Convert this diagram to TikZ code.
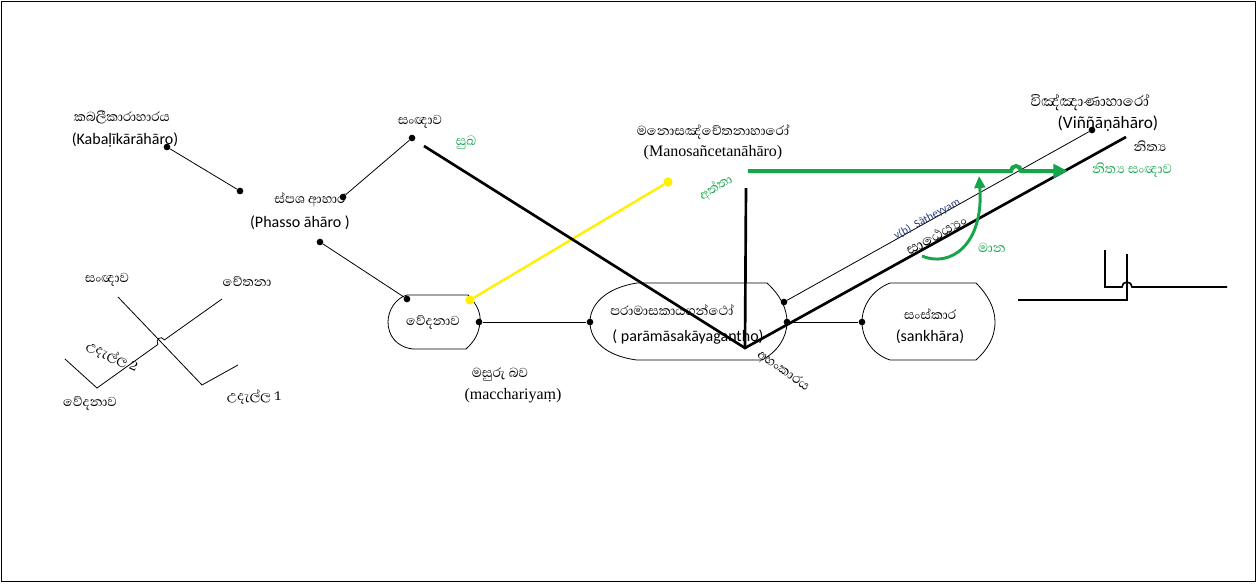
\documentclass[tikz,border=0pt]{standalone}
\usepackage{fontspec}
\setmainfont{Liberation Serif}
\newfontfamily\sinhalafont[Script=Sinhala]{Abhaya Libre}
\newfontfamily\calib{Carlito}
\usetikzlibrary{arrows.meta, positioning}

\definecolor{sgreen}{RGB}{22,165,75}
\definecolor{syellow}{RGB}{255,240,0}
\definecolor{sblue}{RGB}{40,60,120}

\begin{document}
\begin{tikzpicture}[
x=0.75pt, y=-0.75pt,
dot/.style={
circle,
fill=black,
inner sep=0pt,
minimum size=5pt
},
ydot/.style={
circle,
fill=syellow,
inner sep=0pt,
minimum size=7pt
},
sl/.style={
font=\sinhalafont\fontsize{12.5}{14}\selectfont,
inner sep=1pt
},
ll/.style={
font=\calib\fontsize{12}{14}\selectfont,
inner sep=1pt
},
rl/.style={
font=\fontsize{12}{14}\selectfont,
inner sep=1pt
},
gl/.style={
sl,
text=sgreen
},
thinline/.style={
line width=0.6pt
},
thickline/.style={
line width=2pt
},
garrow/.style={
-{Triangle[length=11pt,width=10pt]},
line width=3pt,
draw=sgreen
}
]

\useasboundingbox (0,0) rectangle (1257,583);
\draw[line width=1.2pt] (1.5,1.5) rectangle (1255.5,581.5);

% upper left chain
\node[sl] (kab) at (122,117) {කබලීකාරාහාරය};
\node[ll] (kabl) at (125,140) {(Kabaḷīkārāhāro)};
\node[dot] (d1) at (167,147) {};
\node[dot] (d2) at (240,191) {};
\node[sl] (pha) at (310,200) {ස්පශ ආහාර};
\node[ll] (phal) at (300,223) {(Phasso āhāro )};
\node[dot] (d3) at (343,197) {};
\node[dot] (d4) at (412,138) {};
\node[sl] (san) at (420,122) {සංඥාව};
\node[gl] (sukha) at (466,143) {සුඛ};
\node[dot] (d5) at (320,242) {};
\node[dot] (d6) at (407,299) {};

\draw[thinline] (d1) -- (d2);
\draw[thinline] (d3) -- (d4);
\draw[thinline] (d5) -- (d6);

% vedana
\draw[thinline] (407,295) -- (468,295)
.. controls (478,305) and (481,315) .. (480,322)
.. controls (479,332) and (476,340) .. (466,349) -- (413,349)
.. controls (396,347) and (388,335) .. (388,322)
.. controls (388,310) and (396,298) .. (407,295);
\node[sl] (ved) at (433,322) {වේදනාව};
\node[dot] (d7) at (479,322) {};
\node[ydot] (y1) at (470,300) {};
\node[ydot] (y2) at (668,182) {};
\draw[syellow, line width=1.8pt] (y1) -- (y2);

\node[sl] (mas) at (500,375) {මසුරු බව};
\node[rl] (masl) at (513,396) {(macchariyaṃ)};

% paramasa
\draw[thinline] (637,283) -- (767,283)
.. controls (780,295) and (787,308) .. (787,322)
.. controls (787,338) and (777,352) .. (762,360) -- (637,360)
.. controls (605,356) and (590,340) .. (590,322)
.. controls (590,305) and (605,288) .. (637,283);
\node[dot] (d8) at (590,322) {};
\node[sl] (par) at (672,310) {පරාමාසකායගන්ථෝ};
\node[ll, inner sep=0pt] (parl) at (688,337) {( parāmāsakāyagantho)};
\node[dot] (d9) at (784,302) {};
\node[dot] (d10) at (787,322) {};

\draw[thinline] (d7) -- (d8);

% sankhara
\draw[thinline] (890,283) -- (976,283)
.. controls (988,295) and (995,308) .. (995,322)
.. controls (995,338) and (987,350) .. (976,360) -- (890,360)
.. controls (872,354) and (862,338) .. (862,322)
.. controls (862,306) and (872,290) .. (890,283);
\node[dot] (d11) at (862,322) {};
\node[sl] (sam) at (930,314) {සංස්කාර};
\node[ll] (saml) at (930,337) {(sankhāra)};

\draw[thinline] (d10) -- (d11);

% mano and vinnana
\node[sl] (man) at (713,132) {මනොසඤ්චේතනාහාරෝ};
\node[rl] (manl) at (713,153) {(Manosañcetanāhāro)};
\node[sl, font=\sinhalafont\fontsize{14}{16}\selectfont] (vin) at (1090,103) {විඤ්ඤාණාහාරෝ};
\node[ll, font=\calib\fontsize{13}{15}\selectfont] (vinl) at (1108,124) {(Viññāṇāhāro)};
\node[dot] (d12) at (1092,130) {};
\node[sl] (nit) at (1150,146) {නිත්‍ය};
\node[gl] (nits) at (1132,170) {නිත්‍ය සංඥාව};

\draw[thinline] (d9) -- (d12);

% thick V
\coordinate (t1) at (424,146);
\coordinate (vb) at (745,348);
\coordinate (t2) at (1126,137);
\coordinate (vt) at (746,188);
\draw[thickline] (t1) -- (vb) -- (t2);
\draw[thickline] (vt) -- (vb);

% green arrows
\coordinate (g1) at (748,171);
\coordinate (g2) at (1068,171);
\draw[garrow] (g1) -- (1011,171) arc(180:360:5) -- (g2);
\coordinate (m1) at (922,256);
\coordinate (m2) at (979,176);
\draw[sgreen, line width=2.2pt, -{Triangle[length=9pt,width=8pt]}] (m1) .. controls (950,268) and (984,245) .. (m2);
\node[gl] (mana) at (992,248) {මාන};
\node[gl, rotate=32] (atta) at (716,188) {අත්තා};

% slanted labels
\node[font=\calib\fontsize{8.5}{9}\selectfont, text=sblue, rotate=29, inner sep=0pt] (sat) at (927,219) {v(b)\ \ Sātheyyam};
\node[sl, font=\sinhalafont\fontsize{14}{16}\selectfont, rotate=29] (sath) at (936,235) {සාඨෙය්‍යං};
\node[sl, rotate=-35, inner sep=0pt] (aha) at (783,371) {අහංකාරය};

% lower left cross
\node[sl] (san2) at (107,280) {සංඥාව};
\node[sl] (cet) at (247,282) {චේතනා};
\node[sl] (ved2) at (90,403) {වේදනාව};
\node[sl] (ud1) at (254,397) {උදැල්ල 1};
\node[sl, rotate=-25] (ud2) at (112,357) {උදැල්ල 2};
\coordinate (c1) at (118,297);
\coordinate (c2) at (202,385);
\coordinate (c3) at (238,365);
\coordinate (c4) at (222,299);
\coordinate (c5) at (97,388);
\coordinate (c6) at (65,359);
\draw[thinline] (c1) -- (c2) -- (c3);
\draw[thinline] (c4) -- (164.4,339.9) .. controls (161,335) and (155,339) .. (157.8,344.5) -- (c5) -- (c6);

% right small figure
\coordinate (r1) at (1105,250);
\coordinate (r2) at (1105,287);
\coordinate (r3) at (1227,287);
\coordinate (r4) at (1127,254);
\coordinate (r5) at (1127,300);
\coordinate (r6) at (1018,300);
\draw[line width=1.2pt] (r1) -- (r2) -- (1122,287) arc(180:360:5) -- (r3);
\draw[line width=1.2pt] (r4) -- (r5) -- (r6);

\end{tikzpicture}
\end{document}
